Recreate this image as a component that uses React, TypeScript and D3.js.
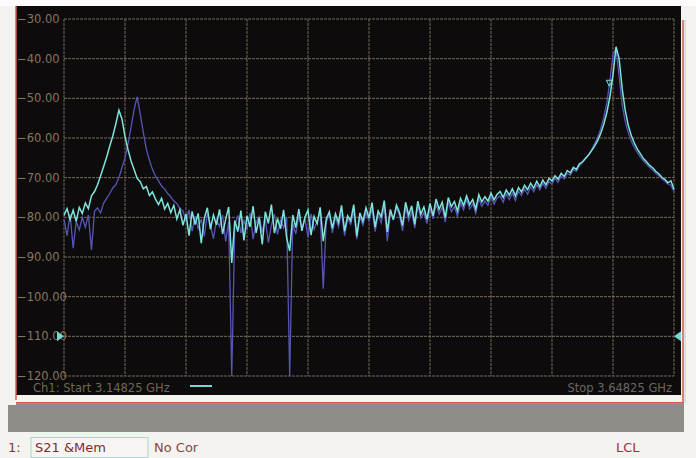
import React from 'react';
import * as d3 from 'd3';

const START_GHZ = 3.14825;
const STOP_GHZ = 3.64825;

const yTicks = [-30, -40, -50, -60, -70, -80, -90, -100, -110, -120];
const xDivisions = [0, 1, 2, 3, 4, 5, 6, 7, 8, 9, 10];

// S21 data trace (cyan), 201 points, dB
const dataTrace = [
  -79.5, -77.8, -80.6, -78.2, -81.0, -77.5, -79.0, -76.4, -77.8, -74.6,
  -73.5, -71.8, -69.5, -67.2, -64.8, -62.0, -59.5, -56.4, -53.0, -55.2,
  -59.6, -63.0, -65.8, -68.0, -70.2, -71.0, -72.8, -72.2, -74.5, -73.6,
  -75.4, -76.8, -75.2, -77.9, -76.5, -78.8, -77.0, -80.4, -78.1, -82.0,
  -79.2, -84.6, -78.5, -81.8, -79.0, -86.5, -80.2, -77.6, -83.0, -79.4,
  -81.9, -78.0, -84.2, -80.5, -77.4, -91.5, -80.8, -83.6, -78.3, -85.8,
  -79.6, -82.4, -77.2, -83.9, -80.1, -86.8, -78.6, -81.5, -76.8, -84.0,
  -80.3, -82.9, -78.1, -85.2, -88.5, -79.4, -82.6, -77.9, -83.4, -80.0,
  -78.2, -84.5, -79.8, -81.6, -77.5, -86.0, -80.4, -78.6, -82.8, -79.1,
  -81.3, -77.0, -83.5, -79.6, -80.9, -76.8, -84.8, -78.9, -81.0, -77.6,
  -80.2, -76.3, -82.5, -78.4, -79.9, -75.8, -83.7, -78.0, -80.6, -76.9,
  -78.8, -82.1, -76.2, -79.5, -77.1, -81.8, -75.9, -79.2, -77.4, -80.5,
  -76.5, -79.6, -75.4, -78.0, -76.2, -80.1, -75.0, -77.3, -76.0, -78.4,
  -75.2, -77.0, -74.6, -76.8, -75.5, -77.9, -74.3, -76.1, -74.8, -75.9,
  -73.9, -75.6, -74.2, -73.5, -75.0, -73.1, -74.4, -72.8, -74.6, -72.5,
  -73.6, -71.9, -73.0, -71.4, -72.6, -70.9, -72.3, -70.6, -71.8, -70.2,
  -70.8, -69.5, -70.4, -68.9, -69.7, -68.2, -68.8, -67.4, -67.9, -66.5,
  -66.0, -65.1, -64.3, -63.2, -62.0, -60.6, -58.8, -56.5, -53.5, -49.5,
  -44.0, -37.0, -40.0, -47.5, -53.0, -56.8, -59.4, -61.3, -62.8, -64.0,
  -65.2, -66.0, -66.9, -67.5, -68.4, -69.0, -69.9, -70.4, -71.3, -70.8,
  -73.0,
];

// memory trace (blue), 201 points, dB
const memTrace = [
  -80.5, -84.6, -79.2, -87.8, -81.0, -83.2, -80.0, -82.5, -79.4, -88.2,
  -78.5, -77.6, -78.9, -76.4, -75.2, -74.0, -72.6, -71.8, -70.0, -67.5,
  -65.0, -61.5, -57.2, -52.8, -49.6, -54.0, -58.6, -62.8, -65.6, -67.9,
  -69.6, -70.8, -72.1, -72.9, -74.0, -74.8, -75.9, -76.5, -77.8, -78.4,
  -80.8, -78.2, -83.5, -79.7, -82.9, -80.4, -84.8, -79.0, -81.7, -85.4,
  -80.6, -82.3, -79.4, -86.1, -81.0, -120.0, -82.0, -79.5, -84.0, -80.8,
  -83.2, -78.9, -85.5, -81.3, -79.8, -83.7, -80.4, -86.4, -81.9, -79.2,
  -84.3, -80.7, -82.6, -79.9, -120.0, -81.5, -84.2, -79.6, -82.8, -80.3,
  -85.0, -79.1, -83.1, -80.9, -78.7, -98.0, -81.2, -79.3, -83.9, -80.0,
  -82.4, -78.6, -84.6, -80.3, -81.8, -78.4, -85.5, -79.8, -82.0, -78.9,
  -80.9, -77.8, -83.6, -79.3, -81.4, -77.2, -86.0, -79.0, -80.5, -77.7,
  -79.6, -83.4, -77.5, -80.8, -78.6, -82.7, -77.0, -80.2, -78.8, -81.6,
  -77.6, -80.4, -76.8, -79.2, -77.5, -81.2, -76.1, -78.6, -77.3, -79.7,
  -76.4, -78.1, -75.6, -77.9, -76.6, -79.0, -75.3, -77.2, -75.9, -77.0,
  -74.8, -76.7, -75.1, -74.6, -76.2, -74.0, -75.5, -73.9, -75.8, -73.4,
  -74.5, -72.8, -74.2, -72.3, -73.5, -71.8, -73.1, -71.4, -72.7, -71.0,
  -71.6, -70.1, -71.2, -69.6, -70.3, -68.9, -69.4, -68.0, -68.4, -67.0,
  -66.2, -65.2, -64.2, -62.9, -61.4, -59.8, -57.6, -54.8, -51.0, -45.5,
  -38.8, -37.6, -44.5, -51.5, -55.8, -58.6, -60.8, -62.4, -63.7, -64.8,
  -65.8, -66.6, -67.4, -68.1, -68.9, -69.5, -70.3, -70.9, -71.6, -71.9,
  -73.5,
];

const refLevel = -110;

const W = 696;
const H = 458;
const plot = { left: 64, right: 674, top: 19, bottom: 376 };

export default function App() {
  const x = d3.scaleLinear().domain([START_GHZ, STOP_GHZ]).range([plot.left, plot.right]);
  const y = d3.scaleLinear().domain([-120, -30]).range([plot.bottom, plot.top]).clamp(true);
  const step = (STOP_GHZ - START_GHZ) / (dataTrace.length - 1);

  const line = d3
    .line<number>()
    .x((d, i) => x(START_GHZ + i * step))
    .y((d) => y(d));

  const fmt = d3.format('.2f');
  const font = 'DejaVu Sans, Verdana, sans-serif';
  const gridColor = '#766a5d';
  const mk = { f: 3.59525, v: -46.2 };

  return (
    <svg width={W} height={H} style={{ position: 'absolute', left: 0, top: 0 }}>
      <rect x={0} y={0} width={W} height={H} fill="#f5f3ef" />
      <rect x={0} y={0} width={W} height={6} fill="#fbfbfb" />

      {/* instrument screen */}
      <rect x={16} y={6} width={665} height={389} fill="#0d0b0b" />
      <line x1={16} x2={16} y1={6} y2={400} stroke="#d2604c" strokeWidth={1.5} />
      <line x1={683} x2={683} y1={20} y2={403} stroke="#d8584a" strokeWidth={1.5} />
      <line x1={685} x2={685} y1={20} y2={403} stroke="#a8dcd8" strokeWidth={1} />
      <line x1={16} x2={684} y1={402.5} y2={402.5} stroke="#d8584a" strokeWidth={1.2} />
      <line x1={16} x2={684} y1={404} y2={404} stroke="#3a2a2a" strokeWidth={1.2} />
      <rect x={8} y={405} width={676} height={27} fill="#8f8b87" />

      {/* grid */}
      {yTicks.map((t) => (
        <line key={'h' + t} x1={plot.left} x2={plot.right} y1={y(t)} y2={y(t)}
          stroke={gridColor} strokeWidth={1} strokeDasharray="3,1" />
      ))}
      {xDivisions.map((k) => {
        const xv = x(START_GHZ + k * (STOP_GHZ - START_GHZ) / 10);
        return (
          <line key={'v' + k} x1={xv} x2={xv} y1={plot.top} y2={plot.bottom}
            stroke={gridColor} strokeWidth={1} strokeDasharray="3,1" />
        );
      })}

      {yTicks.map((t) => (
        <text key={'l' + t} x={17} y={y(t)} dy="0.34em" fontFamily={font} fontSize={11.5} fill="#85765f">
          {fmt(t)}
        </text>
      ))}

      {/* traces */}
      <path d={line(memTrace) ?? ''} fill="none" stroke="#5656b4" strokeWidth={1.3} />
      <path d={line(dataTrace) ?? ''} fill="none" stroke="#7fe3dc" strokeWidth={1.5} />

      {/* marker on right resonance */}
      <path d={`M${x(mk.f) - 3},${y(mk.v) - 3}L${x(mk.f) + 3},${y(mk.v) - 3}L${x(mk.f)},${y(mk.v) + 3}Z`}
        fill="none" stroke="#7fe3dc" strokeWidth={1} />

      {/* reference level arrows */}
      <path d={`M57,${y(refLevel) - 5}L64,${y(refLevel)}L57,${y(refLevel) + 5}Z`} fill="#78d6d2" />
      <path d={`M681,${y(refLevel) - 5}L674,${y(refLevel)}L681,${y(refLevel) + 5}Z`} fill="#78d6d2" />

      <text x={33} y={392} fontFamily={font} fontSize={11.5} fill="#6e6a52">
        Ch1: Start  3.14825 GHz
      </text>
      <line x1={190} x2={212} y1={386} y2={386} stroke="#72d8d0" strokeWidth={2} />
      <text x={672} y={392} textAnchor="end" fontFamily={font} fontSize={11.5} fill="#6a6862">
        Stop  3.64825 GHz
      </text>

      {/* status bar */}
      <text x={8} y={452} fontFamily={font} fontSize={13} fill="#7a3a3a">1:</text>
      <rect x={31} y={437.5} width={117} height={20} fill="#f7f5f1" stroke="#a6d6d6" strokeWidth={1} />
      <text x={35} y={452} fontFamily={font} fontSize={13} fill="#7a2e34">
        S21 &amp;Mem
      </text>
      <text x={154} y={452} fontFamily={font} fontSize={13} fill="#8a4448">No Cor</text>
      <text x={616} y={452} fontFamily={font} fontSize={13} fill="#a0303e">LCL</text>
    </svg>
  );
}
